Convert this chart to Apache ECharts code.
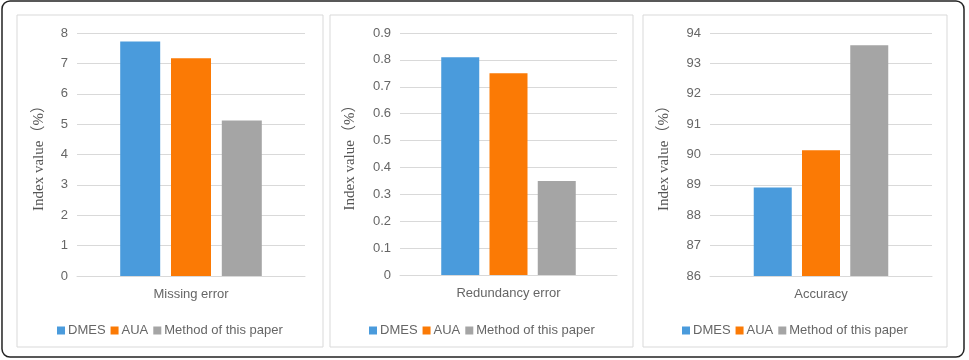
<!DOCTYPE html>
<html>
<head>
<meta charset="utf-8">
<script src="https://cdn.jsdelivr.net/npm/echarts@6/dist/echarts.min.js"></script>
<style>
  html, body { margin: 0; padding: 0; background: #fff; }
  #chart { width: 969px; height: 360px; }
</style>
</head>
<body>
<div id="chart"></div>
<script>
// one category per panel
const categories = ['Missing error', 'Redundancy error', 'Accuracy'];
const methods = ['DMES', 'AUA', 'Method of this paper'];
const colors = ['#4a9bdc', '#fb7a05', '#a5a5a5'];

const dmesValues = [7.72, 0.81, 88.91];
const auaValues = [7.17, 0.75, 90.14];
const oursValues = [5.12, 0.35, 93.6];

const yMin = [0, 0, 86];
const yMax = [8, 0.9, 94];
const yStep = [1, 0.1, 1];

// panel layout (px)
const panels = [
  { box: [17, 15, 306, 332], grid: { left: 77, right: 664, top: 33, bottom: 84 }, barWidth: 40, nameGap: 30 },
  { box: [330, 15, 303, 332], grid: { left: 400, right: 352, top: 33, bottom: 85 }, barWidth: 38, nameGap: 42 },
  { box: [643, 15, 304, 332], grid: { left: 710, right: 37, top: 33, bottom: 84 }, barWidth: 38, nameGap: 38 }
];

const textColor = '#666';
const lineColor = '#d9d9d9';
const sansFont = '"Liberation Sans", Arial, "Noto Sans CJK SC", sans-serif';

const chart = echarts.init(document.getElementById('chart'));

const allValues = [dmesValues, auaValues, oursValues];
const grid = [], xAxis = [], yAxis = [], legend = [], series = [], graphic = [];

panels.forEach((p, i) => {
  grid.push(p.grid);
  xAxis.push({
    type: 'category',
    gridIndex: i,
    data: [categories[i]],
    axisLine: { lineStyle: { color: lineColor } },
    axisTick: { show: false },
    axisLabel: { color: textColor, fontSize: 13, margin: 12, fontFamily: sansFont }
  });
  yAxis.push({
    type: 'value',
    gridIndex: i,
    min: yMin[i],
    max: yMax[i],
    interval: yStep[i],
    name: 'Index value（%）',
    nameLocation: 'middle',
    nameGap: p.nameGap,
    nameTextStyle: {
      color: '#555',
      fontSize: 15,
      fontFamily: '"Liberation Serif", "Times New Roman", "Noto Sans CJK SC", serif'
    },
    axisLine: { show: false },
    axisTick: { show: false },
    axisLabel: {
      color: textColor, fontSize: 13, margin: 9, fontFamily: sansFont,
      formatter: v => (yStep[i] < 1 ? (Math.round(v * 10) / 10).toString() : v)
    },
    splitLine: { lineStyle: { color: lineColor } }
  });
  methods.forEach((m, k) => {
    series.push({
      name: m,
      type: 'bar',
      xAxisIndex: i,
      yAxisIndex: i,
      barWidth: p.barWidth,
      barGap: '27%',
      itemStyle: { color: colors[k] },
      data: [allValues[k][i]]
    });
  });
  legend.push({
    data: methods,
    left: p.box[0],
    top: 319,
    itemWidth: 8,
    itemHeight: 8,
    itemGap: 5,
    icon: 'rect',
    textStyle: { color: textColor, fontSize: 13, fontFamily: sansFont, padding: [0, 0, 0, -2] }
  });
  graphic.push({
    type: 'rect',
    shape: { x: p.box[0], y: p.box[1], width: p.box[2], height: p.box[3] },
    style: { fill: 'none', stroke: lineColor, lineWidth: 1 },
    silent: true
  });
});

// outer frame
graphic.push({
  type: 'rect',
  shape: { x: 2, y: 1, width: 962, height: 356, r: 8 },
  style: { fill: 'none', stroke: '#222', lineWidth: 1.5 },
  silent: true
});

chart.setOption({
  animation: false,
  color: colors,
  grid, xAxis, yAxis, legend, series, graphic
});

// center each legend on its panel
const centered = panels.map((p, i) => {
  const comp = chart.getModel().getComponent('legend', i);
  const view = chart.getViewOfComponentModel(comp);
  const w = view.group.getBoundingRect().width;
  return { left: Math.round(p.box[0] + p.box[2] / 2 - w / 2) };
});
chart.setOption({ legend: centered });
</script>
</body>
</html>
